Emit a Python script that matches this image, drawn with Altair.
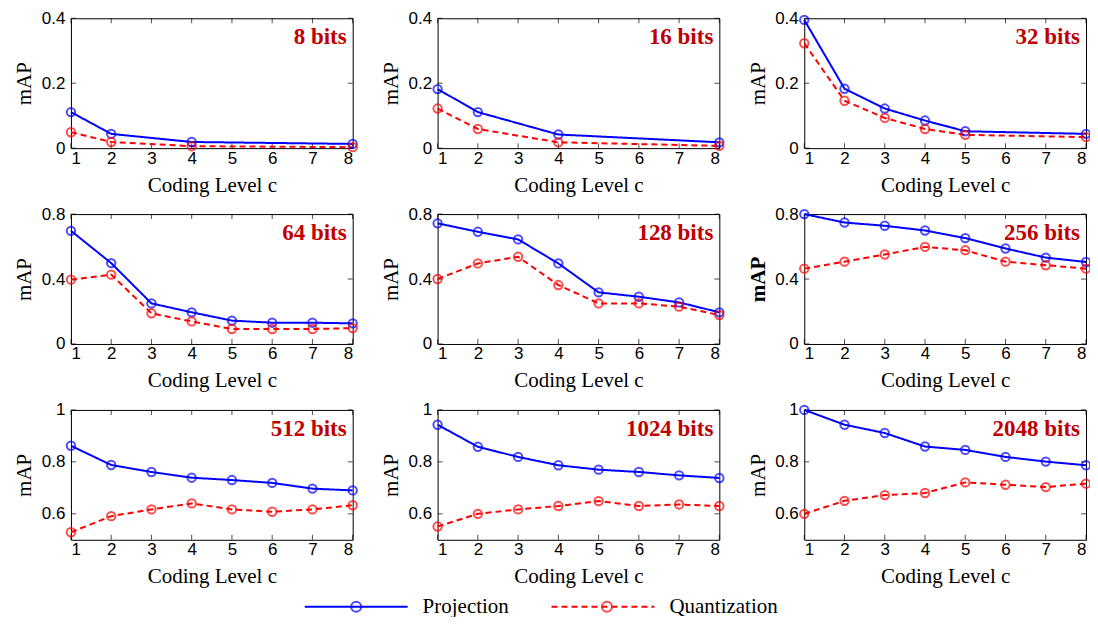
import altair as alt
import pandas as pd

methods = ["Projection", "Quantization"]
marker_names = ["Projection marker", "Quantization marker"]
colors = ["#0000FF", "#FF0000"]
x_ticks = [1, 2, 3, 4, 5, 6, 7, 8]

panel_names = ["8 bits", "16 bits", "32 bits", "64 bits", "128 bits", "256 bits",
               "512 bits", "1024 bits", "2048 bits"]

levels_8 = [1, 2, 4, 8]
proj_8 = [0.111, 0.044, 0.019, 0.013]
quant_8 = [0.049, 0.019, 0.006, 0.003]

levels_16 = [1, 2, 4, 8]
proj_16 = [0.182, 0.111, 0.042, 0.018]
quant_16 = [0.122, 0.059, 0.018, 0.007]

levels_32 = [1, 2, 3, 4, 5, 8]
proj_32 = [0.395, 0.183, 0.122, 0.085, 0.052, 0.044]
quant_32 = [0.323, 0.146, 0.093, 0.059, 0.041, 0.034]

levels_all = [1, 2, 3, 4, 5, 6, 7, 8]
proj_64 = [0.697, 0.498, 0.250, 0.195, 0.144, 0.131, 0.131, 0.127]
quant_64 = [0.396, 0.427, 0.189, 0.139, 0.092, 0.092, 0.092, 0.098]
proj_128 = [0.743, 0.691, 0.644, 0.496, 0.318, 0.291, 0.256, 0.195]
quant_128 = [0.400, 0.496, 0.537, 0.363, 0.250, 0.250, 0.230, 0.178]
proj_256 = [0.800, 0.748, 0.728, 0.699, 0.652, 0.588, 0.532, 0.505]
quant_256 = [0.464, 0.507, 0.551, 0.598, 0.577, 0.507, 0.485, 0.464]
proj_512 = [0.862, 0.788, 0.761, 0.739, 0.730, 0.719, 0.697, 0.690]
quant_512 = [0.529, 0.591, 0.617, 0.640, 0.617, 0.608, 0.617, 0.633]
proj_1024 = [0.943, 0.858, 0.819, 0.787, 0.770, 0.761, 0.748, 0.738]
quant_1024 = [0.551, 0.600, 0.617, 0.630, 0.649, 0.630, 0.636, 0.630]
proj_2048 = [1.000, 0.943, 0.911, 0.859, 0.846, 0.819, 0.801, 0.787]
quant_2048 = [0.600, 0.650, 0.672, 0.680, 0.721, 0.712, 0.703, 0.716]

y_dom_row1 = [0, 0.4]
y_ticks_row1 = [0, 0.2, 0.4]
y_dom_row2 = [0, 0.8]
y_ticks_row2 = [0, 0.4, 0.8]
y_dom_row3 = [0.5, 1.0]
y_ticks_row3 = [0.6, 0.8, 1.0]

panels_data = [
    (levels_8, proj_8, quant_8, y_dom_row1, y_ticks_row1),
    (levels_16, proj_16, quant_16, y_dom_row1, y_ticks_row1),
    (levels_32, proj_32, quant_32, y_dom_row1, y_ticks_row1),
    (levels_all, proj_64, quant_64, y_dom_row2, y_ticks_row2),
    (levels_all, proj_128, quant_128, y_dom_row2, y_ticks_row2),
    (levels_all, proj_256, quant_256, y_dom_row2, y_ticks_row2),
    (levels_all, proj_512, quant_512, y_dom_row3, y_ticks_row3),
    (levels_all, proj_1024, quant_1024, y_dom_row3, y_ticks_row3),
    (levels_all, proj_2048, quant_2048, y_dom_row3, y_ticks_row3),
]

W, H = 282, 130
LEG_X, LEG_Y = 233, 578
# legend symbol box is 20px (unit = 10px); line spans 103px, ring centred on it
LINE_PATH = "M-1,0L9.3,0"
RING_PATH = "M4.65,0A0.5,0.5,0,1,1,3.65,0A0.5,0.5,0,1,1,4.65,0"

line_legend = alt.Legend(
    orient="none", legendX=LEG_X, legendY=LEG_Y, direction="horizontal", title=None,
    symbolType=LINE_PATH, symbolSize=400, symbolStrokeWidth=2,
    symbolFillColor="transparent",
    labelFont="Liberation Serif", labelFontSize=21, labelColor="black",
    labelOffset=97, columnPadding=38,
)
ring_legend = alt.Legend(
    orient="none", legendX=LEG_X, legendY=LEG_Y, direction="horizontal", title=None,
    symbolType=RING_PATH, symbolSize=400, symbolStrokeWidth=2,
    symbolFillColor="white",
    labelFont="Liberation Serif", labelFontSize=21, labelColor="black",
    labelExpr="''", labelOffset=97, columnPadding=38 + 94,
)


def make_panel(name, levels, proj, quant, ydom, yticks):
    n = len(levels)
    df = pd.DataFrame({
        "level": levels + levels,
        "mAP": proj + quant,
        "method": [methods[0]] * n + [methods[1]] * n,
        "marker": [marker_names[0]] * n + [marker_names[1]] * n,
    })
    bold = name == "256 bits"
    x_enc = alt.X("level:Q",
                  scale=alt.Scale(domain=[1, 8], nice=False, zero=False, padding=0),
                  axis=alt.Axis(values=x_ticks, title="Coding Level c", format="d"))
    y_enc = alt.Y("mAP:Q",
                  scale=alt.Scale(domain=ydom, nice=False, zero=False, padding=0),
                  axis=alt.Axis(values=yticks, title="mAP", format="~g",
                                titleFontWeight="bold" if bold else "normal"))
    color = alt.Color("method:N", scale=alt.Scale(domain=methods, range=colors),
                      legend=line_legend)
    dash = alt.StrokeDash("method:N", scale=alt.Scale(domain=methods, range=[[1, 0], [6, 4]]),
                          legend=line_legend)
    stroke = alt.Stroke("marker:N", scale=alt.Scale(domain=marker_names, range=colors),
                        legend=ring_legend)
    base = alt.Chart(df)
    line = base.mark_line(strokeWidth=2).encode(x=x_enc, y=y_enc, color=color, strokeDash=dash)
    pts = base.mark_point(shape="circle", filled=False, size=70, strokeWidth=2).encode(
        x=x_enc, y=y_enc, stroke=stroke)

    tick_style = dict(color="black", thickness=1, size=5)
    bot = alt.Chart(pd.DataFrame({"level": x_ticks, "mAP": [ydom[0]] * len(x_ticks)})).mark_tick(
        orient="vertical", yOffset=-2.5, **tick_style).encode(x=x_enc, y=y_enc)
    top = alt.Chart(pd.DataFrame({"level": x_ticks, "mAP": [ydom[1]] * len(x_ticks)})).mark_tick(
        orient="vertical", yOffset=2.5, **tick_style).encode(x=x_enc, y=y_enc)
    lft = alt.Chart(pd.DataFrame({"level": [1] * len(yticks), "mAP": yticks})).mark_tick(
        orient="horizontal", xOffset=2.5, **tick_style).encode(x=x_enc, y=y_enc)
    rgt = alt.Chart(pd.DataFrame({"level": [8] * len(yticks), "mAP": yticks})).mark_tick(
        orient="horizontal", xOffset=-2.5, **tick_style).encode(x=x_enc, y=y_enc)

    label = alt.Chart(pd.DataFrame({"label": [name]})).mark_text(
        align="right", baseline="alphabetic", font="Liberation Serif", fontSize=23,
        fontWeight="bold", color="#BF0000",
    ).encode(x=alt.value(W - 6), y=alt.value(26), text="label:N")

    return alt.layer(bot, top, lft, rgt, line, pts, label).properties(width=W, height=H)


panels = [make_panel(panel_names[i], *panels_data[i]) for i in range(9)]
chart = alt.concat(*panels, columns=3, spacing={"row": 66, "column": 85}, bounds="flush").properties(
    padding={"left": 5, "top": 0, "right": -5, "bottom": 0}
).configure_view(
    stroke="black", strokeWidth=1
).configure_axis(
    domain=False, ticks=False, grid=False,
    labelFont="Liberation Sans", labelFontSize=17, labelColor="black", labelPadding=6,
    titleFont="Liberation Serif", titleFontSize=21, titleColor="black",
    titleFontWeight="normal",
).configure_axisX(titlePadding=8, labelPadding=2).configure_axisY(
    titlePadding=6, minExtent=30, maxExtent=30)

chart.save("out.html", embed_options={"renderer": "svg", "actions": False})
